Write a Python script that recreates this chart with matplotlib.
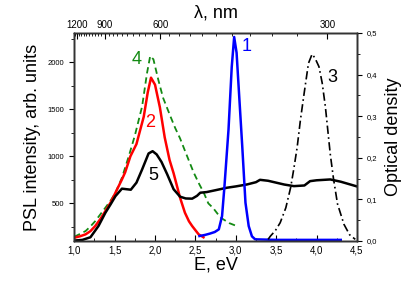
import matplotlib
matplotlib.use("Agg")
import matplotlib.pyplot as plt
from matplotlib.ticker import FixedLocator, MultipleLocator, FuncFormatter
import numpy as np

plt.rcParams["font.family"] = ["Liberation Sans", "DejaVu Sans"]

# ---------------------------------------------------------------------------
# Data (E in eV, PSL in arb. units, OD)
# ---------------------------------------------------------------------------

# curve 1 (blue)
e1 = [2.55, 2.62, 2.68, 2.74, 2.79, 2.83, 2.86, 2.91, 2.95, 2.98, 3.01, 3.03,
      3.08, 3.12, 3.16, 3.20, 3.24, 3.50, 4.00, 4.30]
v1 = [153, 165, 179, 196, 224, 365, 683, 1284, 1950, 2267, 2100, 1814,
      1107, 507, 259, 150, 118, 112, 112, 112]

# curve 2 (red)
e2 = [1.00, 1.07, 1.14, 1.20, 1.26, 1.32, 1.385, 1.45, 1.51, 1.59, 1.63, 1.695,
      1.77, 1.86, 1.91, 1.95, 2.00, 2.06, 2.12, 2.18, 2.23, 2.27, 2.31, 2.37,
      2.42, 2.46, 2.54, 2.60]
v2 = [135, 150, 171, 205, 260, 330, 418, 510, 613, 754, 830, 1000,
      1130, 1420, 1680, 1835, 1760, 1520, 1200, 960, 820, 690, 560, 401,
      310, 259, 171, 140]

# curve 3 (dash-dot, optical density)
e3 = [3.40, 3.43, 3.49, 3.55, 3.62, 3.68, 3.72, 3.76, 3.80, 3.84, 3.90, 3.945,
      3.98, 4.03, 4.07, 4.11, 4.17, 4.21, 4.26, 4.34, 4.41, 4.48]
od3 = [0.004, 0.012, 0.025, 0.044, 0.080, 0.129, 0.175, 0.225, 0.290, 0.346,
       0.427, 0.449, 0.440, 0.419, 0.380, 0.322, 0.209, 0.150, 0.089, 0.040,
       0.015, 0.004]

# curve 4 (green dashed)
e4 = [1.00, 1.07, 1.14, 1.20, 1.26, 1.32, 1.385, 1.45, 1.51, 1.59, 1.675, 1.75,
      1.84, 1.90, 1.94, 1.98, 2.04, 2.10, 2.19, 2.25, 2.31, 2.37, 2.43, 2.48,
      2.55, 2.60, 2.66, 2.72, 2.81, 2.92, 3.03]
v4 = [145, 175, 206, 255, 312, 380, 454, 530, 613, 772, 1001, 1220,
      1530, 1880, 2065, 2030, 1814, 1620, 1425, 1300, 1190, 1060, 931, 825,
      700, 620, 500, 450, 350, 290, 253]

# curve 5 (black solid)
e5 = [1.00, 1.10, 1.20, 1.30, 1.385, 1.45, 1.51, 1.59, 1.65, 1.70, 1.77, 1.84,
      1.92, 1.97, 2.02, 2.08, 2.15, 2.23, 2.31, 2.38, 2.46, 2.52, 2.56, 2.64,
      2.75, 2.89, 3.00, 3.14, 3.25, 3.30, 3.40, 3.50, 3.60, 3.72, 3.85, 3.92,
      4.00, 4.17, 4.30, 4.40, 4.50]
v5 = [105, 112, 140, 260, 400, 490, 577, 656, 650, 645, 720, 860,
      1030, 1054, 1020, 940, 810, 650, 571, 552, 550, 580, 613, 620,
      640, 666, 680, 701, 725, 750, 740, 720, 700, 683, 690, 736,
      745, 754, 730, 705, 680]

lam_major = [1200, 900, 600, 300]
lam_minor = list(range(1230, 260, -30))

comma = FuncFormatter(lambda v, p: f"{v:.1f}".replace(".", ","))

# ---------------------------------------------------------------------------
# Figure
# ---------------------------------------------------------------------------

fig = plt.figure(figsize=(4.15, 2.89), dpi=100)
ax = fig.add_axes([0.179, 0.166, 0.681, 0.72])

ax.plot(e4, v4, "--", color="#138a13", lw=1.3, dashes=(3.5, 2.2))
ax.plot(e2, v2, "-", color="#ff0000", lw=1.8)
ax.plot(e5, v5, "-", color="black", lw=1.8)
ax.plot(e1, v1, "-", color="#0000ff", lw=1.8)

ax.set_xlim(1.0, 4.5)
ax.set_ylim(100, 2310)
ax.xaxis.set_major_locator(MultipleLocator(0.5))
ax.xaxis.set_minor_locator(MultipleLocator(0.25))
ax.xaxis.set_major_formatter(comma)
ax.yaxis.set_major_locator(MultipleLocator(500))
ax.yaxis.set_minor_locator(MultipleLocator(250))
ax.tick_params(axis="x", which="both", direction="in", labelsize=7, pad=3)
ax.tick_params(axis="x", which="major", length=4)
ax.tick_params(axis="x", which="minor", length=2)
ax.tick_params(axis="y", which="both", direction="out", labelsize=5.5)
ax.tick_params(axis="y", which="major", length=3.5)
ax.tick_params(axis="y", which="minor", length=2)
ax.set_xlabel("E, eV", fontsize=13, labelpad=1)
ax.set_ylabel("PSL intensity, arb. units", fontsize=13, labelpad=5)

# right axis: optical density
ax2 = ax.twinx()
ax2.plot(e3, od3, color="black", lw=1.2, linestyle=(0, (5, 2, 1, 2)))
ax2.set_ylim(0.0, 0.5)
ax2.yaxis.set_major_locator(MultipleLocator(0.1))
ax2.yaxis.set_minor_locator(MultipleLocator(0.05))
ax2.yaxis.set_major_formatter(comma)
ax2.tick_params(axis="y", which="both", direction="out", labelsize=5.5)
ax2.tick_params(axis="y", which="major", length=3.5)
ax2.tick_params(axis="y", which="minor", length=2)
ax2.set_ylabel("Optical density", fontsize=13, labelpad=6)

# top axis: wavelength
ax3 = ax.twiny()
ax3.set_xlim(ax.get_xlim())
ax3.xaxis.set_major_locator(FixedLocator([1240.0 / l for l in lam_major]))
ax3.xaxis.set_minor_locator(FixedLocator([1240.0 / l for l in lam_minor]))
ax3.set_xticklabels([str(l) for l in lam_major])
ax3.tick_params(axis="x", which="both", direction="in", labelsize=7, pad=2)
ax3.tick_params(axis="x", which="major", length=4)
ax3.tick_params(axis="x", which="minor", length=2)
ax3.set_xlabel("λ, nm", fontsize=13, labelpad=2)

for a in (ax, ax2, ax3):
    for s in a.spines.values():
        s.set_linewidth(1.0)
        s.set_color("#333333")

# curve labels
ax.text(3.14, 2170, "1", color="#0000ff", fontsize=13, ha="center", va="center")
ax.text(1.94, 1360, "2", color="#ff0000", fontsize=13, ha="center", va="center")
ax.text(4.19, 1840, "3", color="black", fontsize=13, ha="center", va="center")
ax.text(1.77, 2030, "4", color="#138a13", fontsize=13, ha="center", va="center")
ax.text(1.98, 800, "5", color="black", fontsize=13, ha="center", va="center")

fig.savefig("out.png", dpi=100)
